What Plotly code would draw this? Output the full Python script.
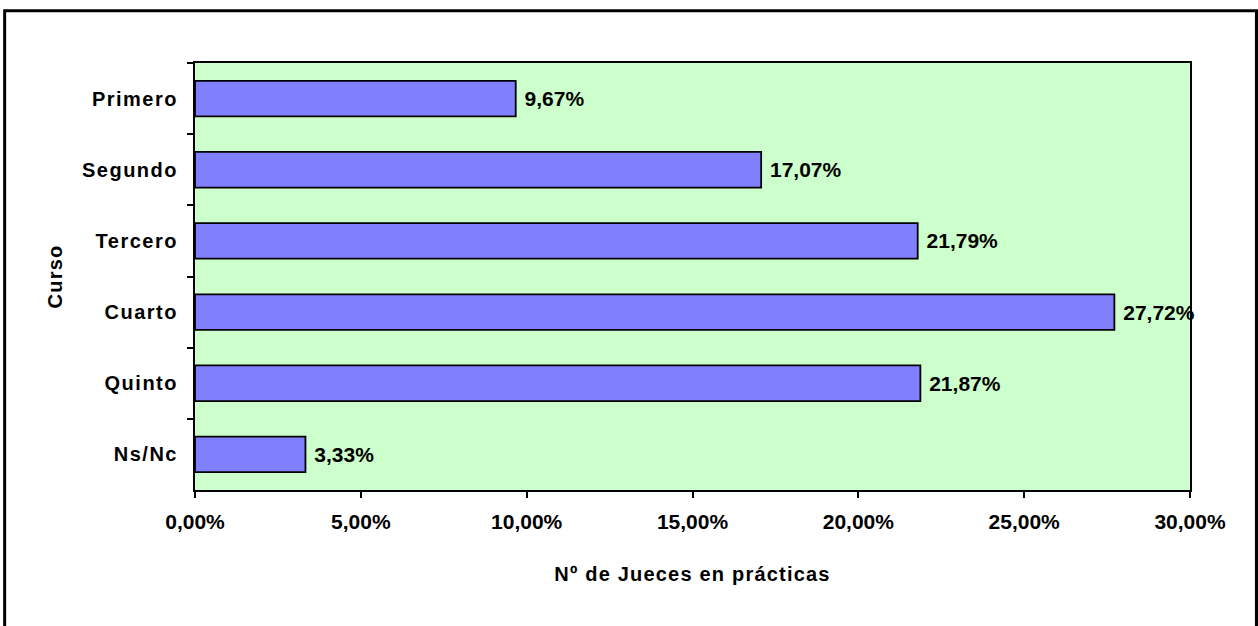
import plotly.graph_objects as go

categories = ["Primero", "Segundo", "Tercero", "Cuarto", "Quinto", "Ns/Nc"]
values = [9.67, 17.07, 21.79, 27.72, 21.87, 3.33]
x_tick_values = [0, 5, 10, 15, 20, 25, 30]
x_tick_labels = ["0,00%", "5,00%", "10,00%", "15,00%", "20,00%", "25,00%", "30,00%"]

FONT = "Liberation Sans, Arial, sans-serif"

fig = go.Figure(
    go.Bar(
        x=values,
        y=categories,
        orientation="h",
        marker=dict(color="#8080FF", line=dict(color="black", width=1.8)),
        texttemplate="\u00a0%{x:.2f}%",
        textposition="outside",
        textfont=dict(family=FONT, size=21, color="black", weight="bold"),
        cliponaxis=False,
        hoverinfo="skip",
    )
)

fig.update_layout(
    width=1258,
    height=626,
    margin=dict(l=195, r=68, t=63, b=136),
    paper_bgcolor="white",
    plot_bgcolor="#CCFFCC",
    separators=",.",
    bargap=0.5,
    showlegend=False,
    font=dict(family=FONT, color="black"),
    shapes=[
        dict(
            type="rect", xref="paper", yref="paper",
            x0=-0.1913, x1=1.0668, y0=-0.35, y1=1.1225,
            line=dict(color="black", width=3), fillcolor="rgba(0,0,0,0)",
            layer="below",
        )
    ],
)

fig.update_xaxes(
    range=[0, 30],
    tickmode="array",
    tickvals=x_tick_values,
    ticktext=x_tick_labels,
    ticks="outside",
    ticklen=6,
    tickwidth=2,
    tickcolor="black",
    showline=True,
    linecolor="black",
    linewidth=2,
    mirror=True,
    showgrid=False,
    zeroline=False,
    ticklabelstandoff=6,
    tickfont=dict(family=FONT, size=21, color="black", weight="bold"),
    title=dict(
        text="Nº de Jueces en prácticas",
        font=dict(family=FONT, size=20, color="black", weight="bold"),
        standoff=35,
    ),
)

fig.update_yaxes(
    autorange="reversed",
    tickson="boundaries",
    ticks="outside",
    ticklen=6,
    tickwidth=2,
    tickcolor="black",
    showline=True,
    linecolor="black",
    linewidth=2,
    mirror=True,
    showgrid=False,
    ticklabelstandoff=11,
    tickfont=dict(family=FONT, size=20, color="black", weight="bold"),
    title=dict(
        text="Curso",
        font=dict(family=FONT, size=20, color="black", weight="bold"),
        standoff=24,
    ),
)

page_css = (
    "document.body.style.margin='0';"
    "document.body.style.overflow='hidden';"
    "var s=document.createElement('style');"
    "s.textContent='.ytick text{letter-spacing:1.5px}"
    " .g-xtitle text, .g-ytitle text{letter-spacing:1.2px}';"
    "document.head.appendChild(s);"
)

fig.write_html("out.html", post_script=page_css, config={"displayModeBar": False})
